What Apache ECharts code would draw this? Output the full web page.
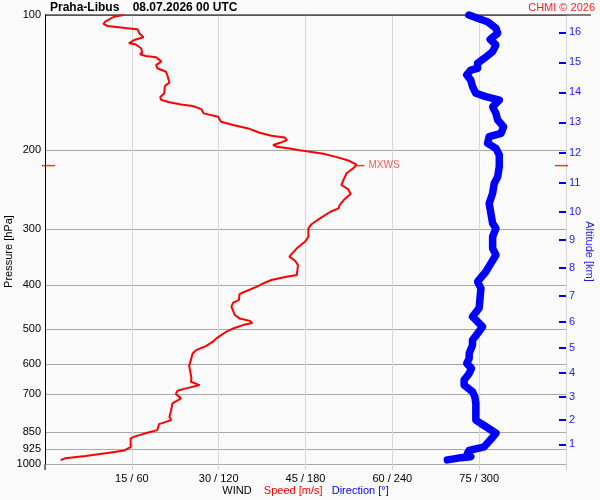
<!DOCTYPE html>
<html><head><meta charset="utf-8">
<script src="https://cdn.jsdelivr.net/npm/echarts@6/dist/echarts.min.js"></script>
<style>html,body{margin:0;padding:0;background:#fafafa}#c{width:600px;height:500px}</style>
</head><body><div id="c"></div>
<script>
// Wind speed profile (m/s) vs pressure (hPa)
const speedPressure = [100,100.9,103.5,104.7,105.8,107,107.6,109.8,112.1,113.7,115.6,116.2,118.6,121.3,122.3,123.4,124.2,127,129.2,131.4,133.8,137.1,141.5,143.9,149.4,152.5,154.7,156.5,158.2,159.5,162,165.6,168.5,172.9,175.8,178.9,182.9,185.8,187.4,189.9,192.6,194.8,196.5,198.2,200,203.8,207.3,210.8,215.5,219.2,225.2,232.3,239.1,244.5,250.4,258.3,265,269.6,274.3,283.8,292,298.6,311.8,320,330.9,345.3,352.6,360.5,379.5,382.8,389.3,394.7,403.3,411.8,418.4,431.4,437.3,446.3,465.9,474,480,485.1,490.5,499,507.6,525,534,546.2,557.6,567.2,587,605,623,644.8,656,667.2,678.5,686.9,698.7,714.2,732.8,758.5,785,798.4,815,840.4,849.4,866.7,877,917,933,944,960,971,980];
const speedValues = [13.5,11.9,10.4,10.1,10.8,14.2,16.0,16.3,17.0,15.4,14.5,15.6,16.6,16.8,16.4,17.4,19.2,20.1,19.2,19.4,20.9,21.2,21.5,20.7,20.6,19.9,20.1,21.5,23.5,25.5,27.0,27.4,29.9,30.4,32.5,35.1,37.1,39.1,41.4,41.8,40.6,39.4,40.0,42.3,44.0,48.1,50.4,52.4,53.8,53.3,52.1,51.6,51.2,52.4,52.8,51.6,50.9,50.7,49.3,47.5,46.1,45.5,45.5,44.9,43.5,42.2,43.2,43.7,43.5,41.7,39.1,38.0,36.5,34.8,33.6,33.5,32.5,32.2,32.8,33.6,35.4,35.8,34.2,32.5,31.3,29.6,29.0,27.8,26.1,25.5,25.2,24.9,25.1,25.3,25.2,26.7,24.4,22.9,22.6,23.5,22.0,21.8,21.5,21.8,19.7,19.4,18.0,15.7,14.8,14.8,13.7,11.1,7.0,3.5,2.7];

// Wind direction profile (deg) vs pressure (hPa)
const dirPressure = [100,101.7,103.5,107,109.8,113.3,116.6,120.7,124.9,128.1,131.4,132.6,136,139.6,144.3,149.4,152,154.7,160.2,165.6,171.4,177.3,183.4,186.5,193.1,198.2,205,217.7,229.2,237.3,249.6,262.8,276.6,291.2,298.8,311.8,330.9,342.4,357.4,373.1,392.6,406.3,424,449.4,469.8,494.7,512,529.7,543.4,567.2,581.7,597,612.5,628.4,650.3,667.2,690.3,708.2,732.8,764.9,798.4,812.5,834.6,854.1,881,915.5,933,946,963,968,976.4,979];
const dirValues = [292.9,298.9,305.8,311.6,312.8,307.6,311.6,309.3,303.5,298.9,298.9,294.2,291.4,294.2,295.4,297.7,304.6,313.9,309.3,311.6,312.8,316.9,315.1,306.9,305.8,311.6,313.9,313.9,312.8,310.4,309.3,306.9,308.1,309.3,311.6,309.3,309.3,311.6,308.1,304.6,298.9,301.2,300.7,300,295.4,302.3,298.9,295.4,295.4,293.1,293.1,291.4,294.7,293.1,289.6,289.6,295.4,297,297.7,297.7,297.7,301.2,306.9,311.6,308.1,303.5,293.1,291.9,294.2,287.3,280.3,278.0];

// Axis ticks
const pressureTicks = [100,200,300,400,500,600,700,850,925,1000];
const speedTicks = [15,30,45,60,75];
const altitudeKm = [1,2,3,4,5,6,7,8,9,10,11,12,13,14,15,16];
const altitudePressure = [904,798,709.3,626.1,551.6,482.8,421.5,366,317,274.7,236.3,203,173.4,148.7,127.5,109.3];

// Max wind
const mxwsSpeed = 53.8;
const mxwsPressure = 216.5;

const pLog = pressureTicks.map(p => Math.log10(p));
const altLog = altitudePressure.map(p => Math.log10(p));

const chart = echarts.init(document.getElementById('c'));
const FONT = 'Liberation Sans, Arial, sans-serif';

chart.setOption({
  animation: false,
  backgroundColor: '#fafafa',
  textStyle: { fontFamily: FONT },
  title: [
    { text: 'Praha-Libus    08.07.2026 00 UTC', left: 50, top: 2, padding: 0,
      textStyle: { fontSize: 12, fontWeight: 'bold', color: '#000', fontFamily: FONT } },
    { text: 'CHMI © 2026', right: 5, top: 2, padding: 0,
      textStyle: { fontSize: 11, fontWeight: 'normal', color: '#ff2020', fontFamily: FONT } }
  ],
  grid: { left: 45, right: 34, top: 15, bottom: 36, containLabel: false, outerBoundsMode: 'none' },
  xAxis: [
    { type: 'value', min: 0, max: 90, interval: 15, position: 'bottom',
      axisLine: { show: false },
      axisTick: { show: true, length: 6, lineStyle: { color: '#d4d4d4' } },
      splitLine: { show: true, lineStyle: { color: '#d8d8d8', width: 1 } },
      axisLabel: { color: '#000', fontSize: 11, margin: 9,
        formatter: v => speedTicks.includes(v) ? (v + ' / ' + v * 4) : '' },
      name: '{w|WIND}    {s|Speed [m/s]}   {d|Direction [°]}',
      nameLocation: 'middle', nameGap: 21, nameMoveOverlap: false,
      nameTextStyle: { fontSize: 11, rich: {
        w: { color: '#000', fontSize: 11, fontFamily: FONT },
        s: { color: '#ff0000', fontSize: 11, fontFamily: FONT },
        d: { color: '#0000ff', fontSize: 11, fontFamily: FONT } } }
    },
    { type: 'value', min: 0, max: 360, show: false, position: 'bottom' }
  ],
  yAxis: [
    { type: 'log', logBase: 10, min: 100, max: 1000, inverse: true, show: false },
    { type: 'value', min: 2, max: 3, inverse: true, position: 'left',
      axisLine: { show: true, lineStyle: { color: '#000', width: 1 } },
      axisTick: { show: false, customValues: pLog },
      axisLabel: { customValues: pLog, color: '#000', fontSize: 11, margin: 4,
        formatter: v => String(Math.round(Math.pow(10, v))) },
      splitLine: { show: true, lineStyle: { color: '#a8a8a8', width: 1 } },
      name: 'Pressure [hPa]', nameLocation: 'middle', nameRotate: 90, nameGap: 31, nameMoveOverlap: false,
      nameTextStyle: { color: '#000', fontSize: 11, padding: [0, 24, 0, 0] }
    },
    { type: 'value', min: 2, max: 3, inverse: true, position: 'right',
      axisLine: { show: false },
      axisTick: { show: true, inside: true, length: 7, customValues: altLog,
        lineStyle: { color: '#0000ff', width: 2 } },
      axisLabel: { customValues: altLog, color: '#1a1aff', fontSize: 11, margin: 3,
        formatter: v => {
          let best = 0, bd = Infinity;
          altLog.forEach((a, i) => { const d = Math.abs(a - v); if (d < bd) { bd = d; best = i; } });
          return String(altitudeKm[best]);
        } },
      splitLine: { show: false },
      name: 'Altitude [km]', nameLocation: 'middle', nameRotate: -90, nameGap: 18, nameMoveOverlap: false,
      nameTextStyle: { color: '#1a1aff', fontSize: 11, padding: [0, 0, 0, 24] }
    }
  ],
  graphic: [
    { type: 'line', z: 1, shape: { x1: 45, y1: 15, x2: 591, y2: 15 }, style: { stroke: '#000', lineWidth: 1 } },
    { type: 'line', z: 1, shape: { x1: 45, y1: 464, x2: 45, y2: 470 }, style: { stroke: '#000', lineWidth: 1 } }
  ],
  series: [
    { type: 'line', name: 'Speed', xAxisIndex: 0, yAxisIndex: 0, symbol: 'none',
      data: speedPressure.map((p, i) => [speedValues[i], p]),
      lineStyle: { color: '#ff0000', width: 2 }, z: 3 },
    { type: 'line', name: 'Direction', xAxisIndex: 1, yAxisIndex: 0, symbol: 'none', clip: false,
      data: dirPressure.map((p, i) => [dirValues[i], p]),
      lineStyle: { color: '#0000ff', width: 7.5, cap: 'round', join: 'round' }, z: 4 },
    { type: 'scatter', xAxisIndex: 0, yAxisIndex: 0, clip: false, z: 5,
      symbol: 'rect', symbolSize: [8, 1.5], symbolOffset: [4, 0],
      itemStyle: { color: '#ff0000' },
      label: { show: true, position: 'right', distance: 4, formatter: 'MXWS', color: '#ff3333', fontSize: 10 },
      data: [[mxwsSpeed, mxwsPressure]] },
    { type: 'scatter', xAxisIndex: 0, yAxisIndex: 0, clip: false, z: 5,
      symbol: 'rect', symbolSize: [13, 1.5],
      itemStyle: { color: '#ff0000' },
      data: [
        { value: [0, mxwsPressure], symbolOffset: [3.5, 0] },
        { value: [90, mxwsPressure], symbolOffset: [-4.5, 0] }
      ] }
  ]
});
</script>
</body></html>
